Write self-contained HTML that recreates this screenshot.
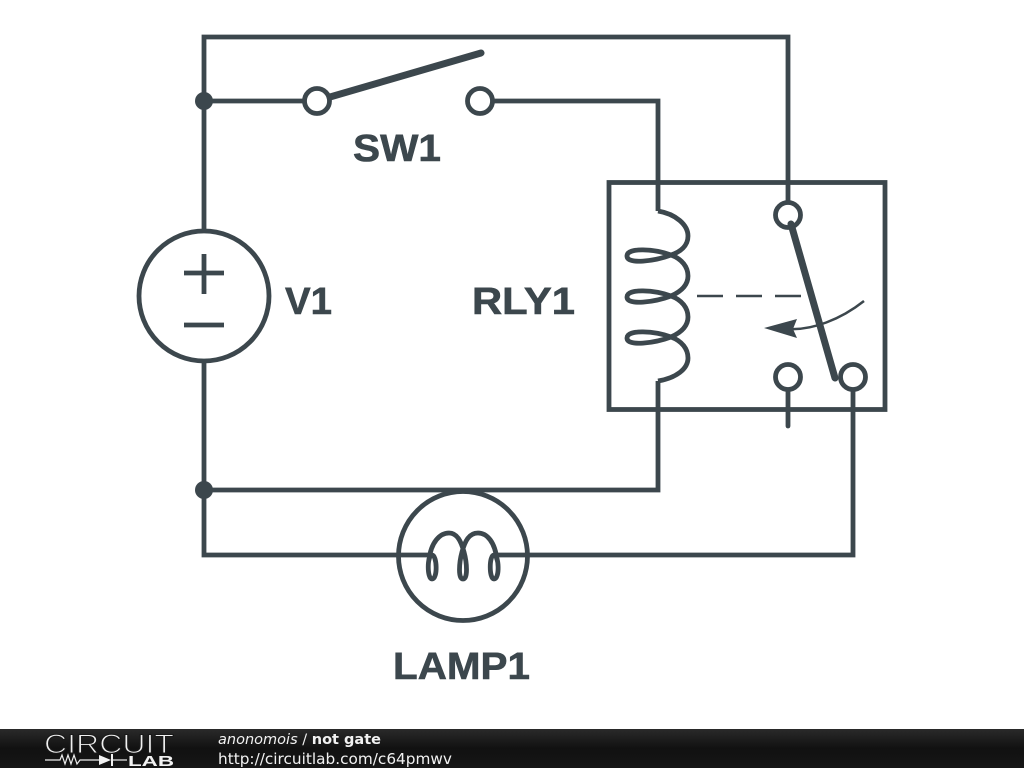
<!DOCTYPE html>
<html>
<head>
<meta charset="utf-8">
<style>
html,body{margin:0;padding:0;background:#fff;width:1024px;height:768px;overflow:hidden}
svg{display:block}
</style>
</head>
<body>
<svg width="1024" height="768" viewBox="0 0 1024 768" xmlns="http://www.w3.org/2000/svg">
<defs>
<linearGradient id="bar" x1="0" y1="0" x2="0" y2="1">
<stop offset="0" stop-color="#2a2a2a"/>
<stop offset="0.5" stop-color="#111"/>
<stop offset="1" stop-color="#161616"/>
</linearGradient>
</defs>
<rect width="1024" height="768" fill="#fff"/>
<g fill="none" stroke="#3c474d" stroke-width="4.800" stroke-linecap="butt" stroke-linejoin="miter">
<!-- wires -->
<path d="M204 230V37H788V203"/>
<path d="M204 101H304"/>
<path d="M493 101H658V211"/>
<path d="M204 362V555H430"/>
<path d="M204 490H658V381"/>
<path d="M494 555H853V390"/>
<path d="M788 390V426" stroke-linecap="round"/>
<!-- relay box -->
<rect x="609" y="182.500" width="276" height="227"/>
<!-- source -->
<circle cx="204" cy="296" r="65"/>
<path d="M204 254V294M184 273H224M184 325H224"/>
<!-- SW1 -->
<circle cx="317" cy="101" r="12.500"/>
<circle cx="480" cy="101" r="12.500"/>
<!-- relay contacts -->
<circle cx="788" cy="215" r="12.500"/>
<circle cx="788" cy="377" r="12.500"/>
<circle cx="853" cy="377" r="12.500"/>
<!-- coil -->
<path d="M658 211C676 214 688 225 688 236C688 246 680 252 671 255C655 249 627 247 627 256C627 265 655 261 671 255C682 259 688 267 688 276C688 286 680 292 671 296C655 290 627 288 627 297C627 306 655 302 671 296C682 300 688 308 688 317C688 327 680 333 671 337C655 331 627 329 627 338C627 347 655 343 671 337C682 341 688 349 688 358C688 369 676 378 658 381"/>
<!-- lamp -->
<circle cx="463" cy="556" r="64.500"/>
<path d="M429 560C431 542 440 533 449 533C457 533 461 541 464 552C467 563 468 579 463 579C458 579 459 563 462 552C465 541 469 533 478 533C487 533 495 542 497 560"/>
<path d="M432 555C437 555 438 579 432 579C427 579 427 555 432 555Z"/>
<path d="M494 555C499 555 500 579 494 579C489 579 489 555 494 555Z"/>
</g>
<!-- dashed link -->
<path d="M697 296H801" fill="none" stroke="#3c474d" stroke-width="2.500" stroke-dasharray="26 13"/>
<!-- switch arms -->
<path d="M330 97L481 53" fill="none" stroke="#3c474d" stroke-width="7" stroke-linecap="round"/>
<path d="M791 224L835 378" fill="none" stroke="#3c474d" stroke-width="7" stroke-linecap="round"/>
<!-- arrow -->
<path d="M864 301C840 320 812 330 790 329" fill="none" stroke="#3c474d" stroke-width="2.500"/>
<path d="M764 328L797 319L793 329L797 338Z" fill="#3c474d"/>
<!-- junctions -->
<circle cx="204" cy="101" r="9" fill="#3c474d"/>
<circle cx="204" cy="490" r="9" fill="#3c474d"/>
<!-- labels -->
<g font-family="'Liberation Sans',sans-serif" font-weight="700" font-size="38" fill="#3c474d" stroke="#3c474d" stroke-width="0.600">
<text x="353" y="161" textLength="88" lengthAdjust="spacingAndGlyphs">SW1</text>
<text x="285" y="314" textLength="47" lengthAdjust="spacingAndGlyphs">V1</text>
<text x="472" y="314" textLength="103" lengthAdjust="spacingAndGlyphs">RLY1</text>
<text x="393" y="679" textLength="137" lengthAdjust="spacingAndGlyphs">LAMP1</text>
</g>
<!-- footer -->
<rect x="0" y="729" width="1024" height="39" fill="url(#bar)"/>
<text x="44" y="753" font-family="'Liberation Sans',sans-serif" font-size="27" fill="#f0f0f0" stroke="#1a1a1a" stroke-width="1.100" textLength="130" lengthAdjust="spacingAndGlyphs">CIRCUIT</text>
<path d="M45 760H60L62 755L65 764L68 755L71 764L74 755L77 764L80 760H99" fill="none" stroke="#eee" stroke-width="1.200"/>
<path d="M99 755L111 760L99 765Z" fill="#f2f2f2"/>
<path d="M112 754V766" stroke="#f2f2f2" stroke-width="2"/>
<path d="M112 760H127" stroke="#eee" stroke-width="1.200"/>
<text x="128" y="766" font-family="'Liberation Sans',sans-serif" font-weight="700" font-size="15" fill="#f2f2f2" textLength="46" lengthAdjust="spacingAndGlyphs">LAB</text>
<text x="218" y="744" font-family="'DejaVu Sans',sans-serif" font-size="14.500" fill="#f2f2f2" textLength="163" lengthAdjust="spacingAndGlyphs"><tspan font-style="italic">anonomois</tspan> / <tspan font-weight="700">not gate</tspan></text>
<text x="218" y="764" font-family="'DejaVu Sans',sans-serif" font-size="15.500" fill="#f2f2f2" textLength="234" lengthAdjust="spacingAndGlyphs">http://circuitlab.com/c64pmwv</text>
</svg>
</body>
</html>
